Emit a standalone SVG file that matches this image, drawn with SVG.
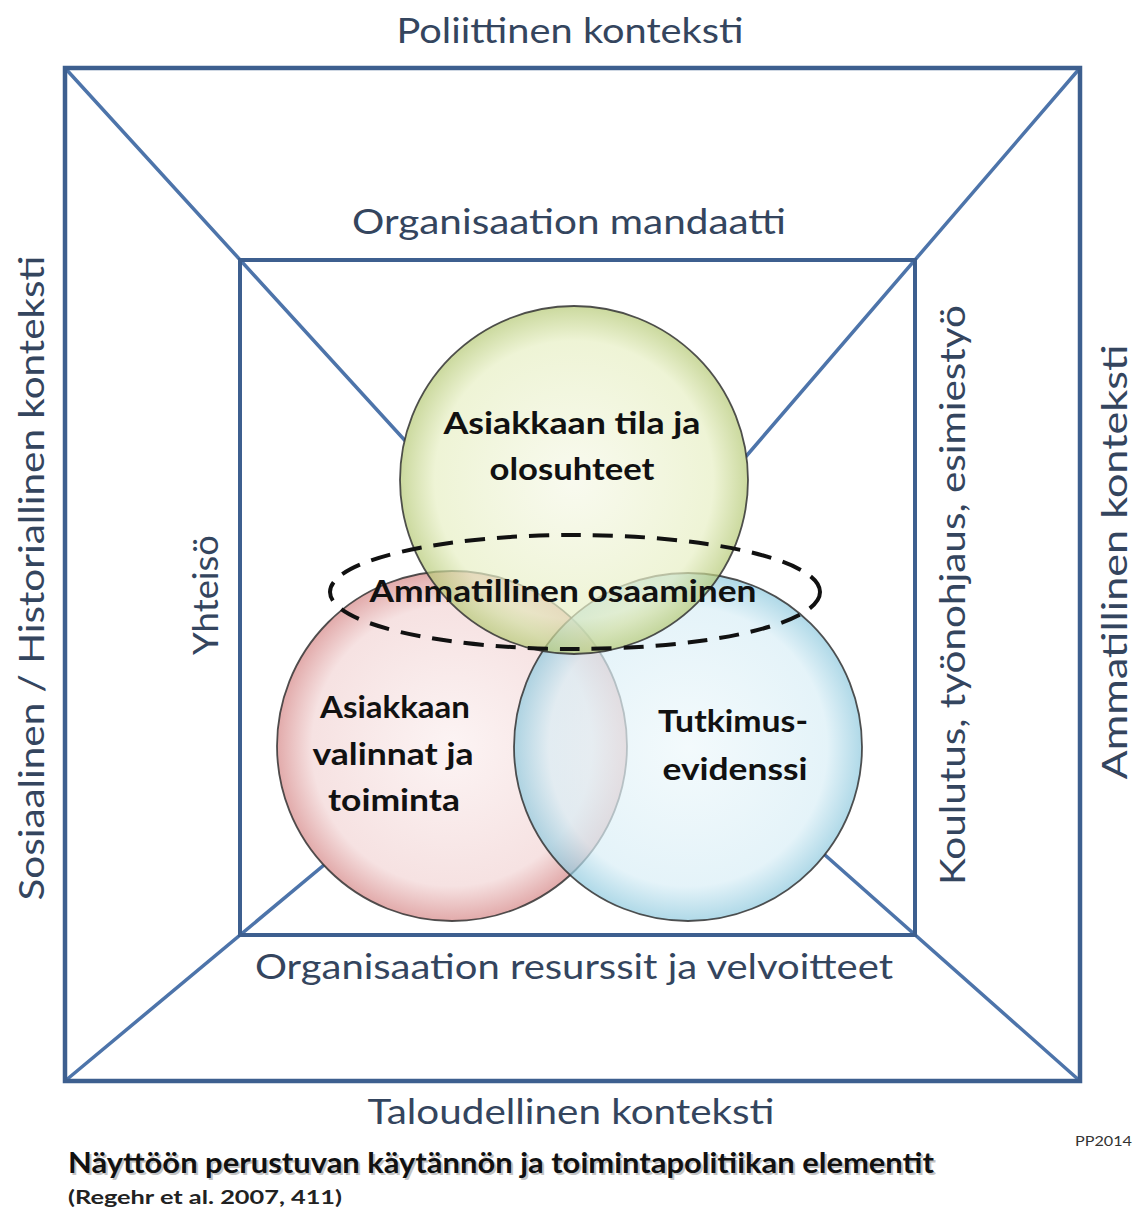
<svg xmlns="http://www.w3.org/2000/svg" width="1139" height="1211" viewBox="0 0 1139 1211">
<style>
.frame{fill:none;stroke:#3d5f8f;stroke-width:4.5}
.diag{stroke:#4d74aa;stroke-width:3.5;stroke-linecap:round}
.ctx{font-family:Lato,"Liberation Sans",sans-serif;font-size:35px;fill:#34455e}
.bold{font-family:Lato,"Liberation Sans",sans-serif;font-weight:bold;font-size:31px;fill:#111}
.ring{stroke:#333;stroke-width:1.8;stroke-opacity:0.85}
</style>
<defs>
<radialGradient id="gG" cx="0.5" cy="0.5" r="0.5">
<stop offset="0" stop-color="#f6f8e8"/><stop offset="0.8" stop-color="#e7efc4"/><stop offset="1" stop-color="#b5c975"/>
</radialGradient>
<radialGradient id="gR" cx="0.5" cy="0.5" r="0.5">
<stop offset="0" stop-color="#fbf0f0"/><stop offset="0.8" stop-color="#f3d8d8"/><stop offset="1" stop-color="#d88e8e"/>
</radialGradient>
<radialGradient id="gB" cx="0.5" cy="0.5" r="0.5">
<stop offset="0" stop-color="#eef8fb"/><stop offset="0.8" stop-color="#d9eef6"/><stop offset="1" stop-color="#8ec9de"/>
</radialGradient>
</defs>
<rect width="1139" height="1211" fill="#ffffff"/>

<g id="connectors">
<line class="diag" x1="65" y1="68" x2="420" y2="457"/>
<line class="diag" x1="1080" y1="68" x2="730" y2="475"/>
<line class="diag" x1="65" y1="1081" x2="360" y2="835"/>
<line class="diag" x1="1080" y1="1081" x2="790" y2="824"/>
</g>

<g id="outer-frame">
<rect class="frame" x="65" y="68" width="1015" height="1013"/>
</g>
<g id="inner-frame">
<rect class="frame" x="240" y="260" width="675" height="675" style="stroke-width:4"/>
</g>

<g id="labels">
<text class="ctx" x="570" y="43" text-anchor="middle" textLength="347" lengthAdjust="spacingAndGlyphs">Poliittinen konteksti</text>
<text class="ctx" x="569" y="234" text-anchor="middle" textLength="434" lengthAdjust="spacingAndGlyphs">Organisaation mandaatti</text>
<text class="ctx" x="574" y="979" text-anchor="middle" textLength="638" lengthAdjust="spacingAndGlyphs">Organisaation resurssit ja velvoitteet</text>
<text class="ctx" x="571" y="1124" text-anchor="middle" textLength="407" lengthAdjust="spacingAndGlyphs">Taloudellinen konteksti</text>
<text class="ctx" transform="translate(44,578) rotate(-90)" text-anchor="middle" textLength="645" lengthAdjust="spacingAndGlyphs">Sosiaalinen / Historiallinen konteksti</text>
<text class="ctx" transform="translate(218,595) rotate(-90)" text-anchor="middle" textLength="120" lengthAdjust="spacingAndGlyphs">Yhteisö</text>
<text class="ctx" transform="translate(965,595) rotate(-90)" text-anchor="middle" textLength="580" lengthAdjust="spacingAndGlyphs">Koulutus, työnohjaus, esimiestyö</text>
<text class="ctx" transform="translate(1127,562) rotate(-90)" text-anchor="middle" textLength="435" lengthAdjust="spacingAndGlyphs">Ammatillinen konteksti</text>
</g>

<g id="circle-backs" fill="#ffffff">
<circle cx="574" cy="480" r="174"/>
<circle cx="452" cy="746" r="175"/>
<circle cx="688" cy="747" r="174"/>
</g>

<g id="node-red">
<circle class="ring" cx="452" cy="746" r="175" fill="url(#gR)" fill-opacity="0.75"/>
</g>
<g id="node-blue">
<circle class="ring" cx="688" cy="747" r="174" fill="url(#gB)" fill-opacity="0.7"/>
</g>
<g id="node-green">
<circle class="ring" cx="574" cy="480" r="174" fill="url(#gG)" fill-opacity="0.7"/>
</g>

<g id="node-professional">
<ellipse cx="575" cy="592" rx="245" ry="57" fill="none" stroke="#111" stroke-width="4" stroke-dasharray="20 12"/>
<text class="bold" x="563" y="602" text-anchor="middle" textLength="387" lengthAdjust="spacingAndGlyphs">Ammatillinen osaaminen</text>
</g>

<g id="node-text-green">
<text class="bold" x="572" y="434" text-anchor="middle" textLength="257" lengthAdjust="spacingAndGlyphs">Asiakkaan tila ja</text>
<text class="bold" x="572" y="480" text-anchor="middle" textLength="165" lengthAdjust="spacingAndGlyphs">olosuhteet</text>
</g>
<g id="node-text-red">
<text class="bold" x="395" y="718" text-anchor="middle" textLength="150" lengthAdjust="spacingAndGlyphs">Asiakkaan</text>
<text class="bold" x="393" y="765" text-anchor="middle" textLength="161" lengthAdjust="spacingAndGlyphs">valinnat ja</text>
<text class="bold" x="394" y="811" text-anchor="middle" textLength="132" lengthAdjust="spacingAndGlyphs">toiminta</text>
</g>
<g id="node-text-blue">
<text class="bold" x="733" y="732" text-anchor="middle" textLength="150" lengthAdjust="spacingAndGlyphs">Tutkimus-</text>
<text class="bold" x="735" y="780" text-anchor="middle" textLength="145" lengthAdjust="spacingAndGlyphs">evidenssi</text>
</g>

<g id="caption" font-family="Lato,'Liberation Sans',sans-serif">
<text x="70" y="1175" font-size="28" font-weight="bold" fill="#c4c4c4" textLength="866" lengthAdjust="spacingAndGlyphs">Näyttöön perustuvan käytännön ja toimintapolitiikan elementit</text>
<text x="68" y="1173" font-size="28" font-weight="bold" fill="#111" textLength="866" lengthAdjust="spacingAndGlyphs">Näyttöön perustuvan käytännön ja toimintapolitiikan elementit</text>
<text x="68" y="1204" font-size="19" font-weight="bold" fill="#222" textLength="274" lengthAdjust="spacingAndGlyphs">(Regehr et al. 2007,  411)</text>
<text x="1132" y="1146" font-size="13" fill="#333" text-anchor="end" textLength="57" lengthAdjust="spacingAndGlyphs">PP2014</text>
</g>
</svg>
